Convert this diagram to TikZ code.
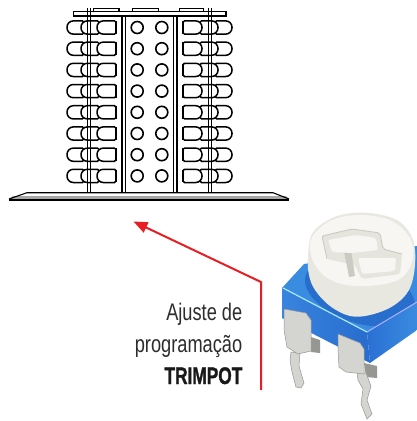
\documentclass[tikz,border=0pt]{standalone}
\usepackage{fontspec}
\setmainfont{Liberation Sans}
\newfontfamily\condfont[FakeStretch=0.76]{Liberation Sans}
\newfontfamily\condbold[FakeStretch=0.72, FakeBold=1.2]{Liberation Sans Bold}
\usetikzlibrary{arrows.meta}
\definecolor{redline}{RGB}{232,30,36}
\definecolor{txtgray}{RGB}{45,45,45}
\definecolor{bluetop}{RGB}{58,140,224}
\definecolor{bluefrontL}{RGB}{56,132,222}
\definecolor{bluefrontR}{RGB}{40,108,206}
\definecolor{blueside}{RGB}{42,112,212}
\definecolor{bluering}{RGB}{40,110,204}
\definecolor{knobside}{RGB}{232,231,224}
\definecolor{knobtop}{RGB}{247,246,242}
\definecolor{recess}{RGB}{229,228,221}
\definecolor{recessdark}{RGB}{204,203,195}
\definecolor{pinfill}{RGB}{212,212,209}
\definecolor{pindark}{RGB}{150,150,146}
\newcommand\myled[3]{% left x, centre y, width
  \draw[ledsty] (#1+#3,#2-6.6) [rounded corners=6.3pt] -- (#1,#2-6.6) -- (#1,#2+6.6) [rounded corners=1.5pt] -- (#1+#3,#2+6.6) -- cycle;}
\tikzset{
  ln/.style={draw=black, line width=1.2pt},
  ledsty/.style={draw=black, fill=white, line width=1.5pt},
  lbl/.style={inner sep=0pt, text=txtgray, font={\condfont\fontsize{24}{28}\selectfont}},
  pinsty/.style={fill=pinfill, draw=pindark, line width=0.5pt},
}
\begin{document}
\begin{tikzpicture}[x=1pt,y=-1pt]
\useasboundingbox (0,0) rectangle (417,421);
\fill[white] (0,0) rectangle (417,421);

% ---------- LED block ----------
% top plate and tabs
\draw[ln, fill=white] (73.5,11.7) rectangle (226,16);
\draw[ln] (93.3,8.3) rectangle (119,11.7);
\draw[ln] (132.7,8.3) rectangle (158.3,11.7);
\draw[ln] (179.5,8.3) rectangle (203.5,11.7);

\foreach \sc in {1,-1}{
  \begin{scope}[shift={(149.5,0)}, xscale=\sc, shift={(-149.5,0)}]
    % central rails
    \draw[line width=2.8pt] (122,16) -- (122,192.7);
    \draw[line width=1.1pt] (125.9,16) -- (125.9,192.7);
    \foreach \r in {0,...,7}{
      \pgfmathsetmacro\yy{27.5+21.2*\r}
      \myled{67}{\yy}{17}
      \myled{81}{\yy}{18}
      \myled{97}{\yy}{19}
      \draw[line width=2.8pt] (116,\yy-6.4) -- (116,\yy+6.4);
      \draw[line width=1.6pt] (137.2,\yy) circle[radius=6pt];
    }
    % outer rails (over the LEDs)
    \draw[line width=1.1pt] (87.2,8.3) -- (87.2,192.7);
    \draw[line width=1.1pt] (90.8,8.3) -- (90.8,192.7);
  \end{scope}
}

% base plate
\fill[gray!70] (13,196) -- (286,196) -- (289,199.5) -- (9,199.5) -- cycle;
\draw[line width=1.1pt, fill=none] (9,199) -- (27,192.7) -- (273,192.7) -- (289,199);
\draw[line width=2.3pt] (9,200.3) -- (289,200.3);

% ---------- label and arrow ----------
\node[lbl, anchor=base east] (t1) at (242.5,320.5) {Ajuste de};
\node[lbl, anchor=base east] (t2) at (242.5,352.5) {programação};
\node[lbl, anchor=base east, text=black!90, font={\condbold\fontsize{24}{28}\selectfont}] (t3) at (242.5,384) {TRIMPOT};

\coordinate (astart) at (261,390);
\coordinate (acorner) at (261,282);
\coordinate (atip) at (133.5,221.5);
\draw[redline, line width=2pt, line join=miter, -{Triangle[length=14pt,width=11pt]}] (astart) -- (acorner) -- (atip);

% ---------- trimpot ----------
% top surface
\fill[bluetop] (282,288) -- (304,264) -- (417,246) -- (417,302) -- (367,332) -- cycle;
% ring around knob base
\begin{scope}
  \clip (282,288) -- (304,264) -- (417,246) -- (417,302) -- (367,332) -- cycle;
  \fill[bluering] (360,293) ellipse[x radius=57pt, y radius=30pt, rotate=-18];
\end{scope}
% front face
\shade[left color=bluefrontL, right color=bluefrontR] (282,288) -- (367,332) -- (370,363) -- (282,318) -- cycle;
\draw[line width=1.2pt, color=blue!25!cyan!35!white] (283,288) -- (367,332);
% right face
\shade[left color=blueside, right color=bluetop] (367,332) -- (417,302) -- (417,330) -- (370,363) -- cycle;
\draw[line width=1pt, color=blue!30!white] (367,332) -- (417,302);

% knob
\fill[knobside] plot[smooth cycle, tension=0.6] coordinates {(308,258) (312,234) (330,219) (352,213) (377,214) (400,222) (413,240) (415,265) (409,290) (393,306) (370,315) (350,316) (330,306) (315,290) (309,275)};
\fill[knobtop] plot[smooth cycle, tension=0.6] coordinates {(311,240) (330,221) (360,215) (392,221) (411,240) (412,262) (398,280) (366,286) (335,282) (315,265)};
% recess (cross slot seen in perspective)
\fill[recess, rounded corners=2pt] (322,236) -- (352,229) -- (380,233) -- (383,249) -- (402,254) -- (400,274) -- (362,279) -- (355,265) -- (327,259) -- cycle;
\draw[line width=0.9pt, color=recessdark, line join=round, rounded corners=2pt] (327,259) -- (322,236) -- (352,229) -- (380,233) -- (383,249) -- (402,254);
\fill[recessdark] (344,251) -- (351,250) -- (355,276) -- (349,277) -- cycle;
\fill[knobtop, rounded corners=2pt] (328,240) -- (356,235) -- (376,238) -- (378,250) -- (352,253) -- (332,252) -- cycle;
\fill[knobtop, rounded corners=2pt] (358,258) -- (396,258) -- (395,271) -- (362,274) -- cycle;

% pins
\fill[pindark] (311,337) -- (320,340) -- (320,353) -- (311,352) -- cycle;
\fill[pindark] (364,363) -- (377,366) -- (377,378) -- (366,377) -- cycle;
\path[pinsty] (291,352) -- (300,353) -- (299,366) -- (304,383) -- (301,388) -- (296,387) -- (292,372) -- (290,360) -- cycle;
\path[pinsty] (284,309) -- (306,313) -- (311,320) -- (311,351) -- (298,354) -- (287,347) -- (284,330) -- cycle;
\path[pinsty] (357,372) -- (366,373) -- (371,386) -- (367,400) -- (372,414) -- (367,419) -- (361,404) -- (363,389) -- (358,380) -- cycle;
\path[pinsty] (338,334) -- (360,343) -- (364,349) -- (364,374) -- (346,372) -- (339,367) -- (338,350) -- cycle;
\end{tikzpicture}
\end{document}
